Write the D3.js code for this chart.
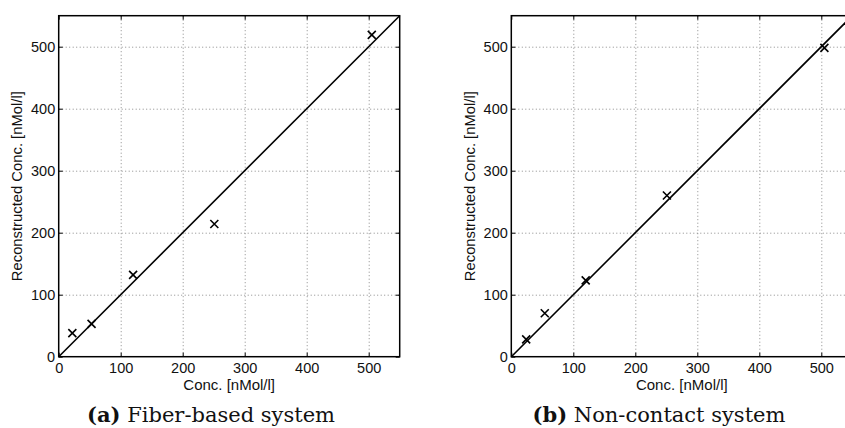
<!DOCTYPE html>
<html lang="en">
  <head>
    <meta charset="UTF-8" />
    <title>Reconstructed vs. true concentration</title>
    <script src="https://d3js.org/d3.v7.min.js"></script>
    <style>
      body { margin: 0; background: #fff; }
      .grid line { stroke: #8a8a8a; stroke-dasharray: 1, 2.5; stroke-width: 1; }
      .grid path, .grid text { display: none; }
      .ax path { display: none; }
      .ax line { stroke: #000; stroke-width: 1; }
    </style>
  </head>
  <body>
    <div id="chart"></div>
    <script>
      // values
      const tickValues = [0, 100, 200, 300, 400, 500];
      const fiberConc = [22, 53, 120, 251, 505];
      const fiberRecon = [38, 53, 132, 214, 519];
      const nonContactConc = [24, 54, 120, 251, 505];
      const nonContactRecon = [28, 70, 123, 260, 498];
      const xLabel = "Conc. [nMol/l]";
      const yLabel = "Reconstructed Conc. [nMol/l]";

      const width = 845;
      const height = 428;
      const size = 341; // square plot box
      const domainMax = 550;
      const sans = "'Liberation Sans', Arial, Helvetica, sans-serif";

      const svg = d3
        .select("#chart")
        .append("svg")
        .attr("width", width)
        .attr("height", height);

      const x = d3.scaleLinear().domain([0, domainMax]).range([0, size]);
      const y = d3.scaleLinear().domain([0, domainMax]).range([size, 0]);

      function styleAxis(sel) {
        sel.attr("font-family", sans).attr("font-size", 14.5);
        sel.selectAll("text").attr("fill", "#111");
      }

      function drawPanel(left, top, xs, ys, tag, caption, captionX) {
        const g = svg.append("g").attr("transform", `translate(${left},${top})`);

        // dotted grid
        g.append("g")
          .attr("class", "grid")
          .attr("transform", `translate(0,${size})`)
          .call(d3.axisBottom(x).tickValues(tickValues.slice(1)).tickSize(-size));
        g.append("g")
          .attr("class", "grid")
          .call(d3.axisLeft(y).tickValues(tickValues.slice(1)).tickSize(-size));

        // inward ticks with labels
        g.append("g")
          .attr("class", "ax")
          .attr("transform", `translate(0,${size})`)
          .call(d3.axisBottom(x).tickValues(tickValues).tickSizeInner(-4).tickSizeOuter(0).tickPadding(6.5))
          .call(styleAxis);
        g.append("g")
          .attr("class", "ax")
          .call(d3.axisLeft(y).tickValues(tickValues).tickSizeInner(-4).tickSizeOuter(0).tickPadding(3.5))
          .call(styleAxis);
        g.append("g")
          .attr("class", "ax")
          .call(d3.axisTop(x).tickValues(tickValues).tickSizeInner(-4).tickSizeOuter(0).tickFormat(""));
        g.append("g")
          .attr("class", "ax")
          .attr("transform", `translate(${size},0)`)
          .call(d3.axisRight(y).tickValues(tickValues).tickSizeInner(-4).tickSizeOuter(0).tickFormat(""));

        // identity line
        g.append("line")
          .attr("x1", x(0))
          .attr("y1", y(0))
          .attr("x2", x(domainMax))
          .attr("y2", y(domainMax))
          .attr("stroke", "#000")
          .attr("stroke-width", 1.6);

        // box
        g.append("rect")
          .attr("width", size)
          .attr("height", size)
          .attr("fill", "none")
          .attr("stroke", "#000")
          .attr("stroke-width", 1.5);

        // x markers
        const pts = xs.map((v, i) => [v, ys[i]]);
        const r = 4;
        g.selectAll(".mark")
          .data(pts)
          .enter()
          .append("path")
          .attr("class", "mark")
          .attr("d", (d) => {
            const cx = x(d[0]);
            const cy = y(d[1]);
            return `M${cx - r},${cy - r}L${cx + r},${cy + r}M${cx - r},${cy + r}L${cx + r},${cy - r}`;
          })
          .attr("stroke", "#000")
          .attr("stroke-width", 1.6)
          .attr("fill", "none");

        // axis labels
        g.append("text")
          .attr("x", size / 2)
          .attr("y", 390 - top)
          .attr("text-anchor", "middle")
          .attr("font-family", sans)
          .attr("font-size", 15)
          .attr("fill", "#111")
          .text(xLabel);
        g.append("text")
          .attr("transform", `translate(-36.7,${size / 2}) rotate(-90)`)
          .attr("text-anchor", "middle")
          .attr("font-family", sans)
          .attr("font-size", 14.8)
          .attr("fill", "#111")
          .text(yLabel);

        // caption
        const cap = svg
          .append("text")
          .attr("x", captionX)
          .attr("y", 422)
          .attr("text-anchor", "middle")
          .attr("font-family", "'DejaVu Serif', serif")
          .attr("font-size", 21)
          .attr("fill", "#111");
        cap.append("tspan").attr("font-weight", "bold").text(tag);
        cap.append("tspan").text(" " + caption);
      }

      drawPanel(58.7, 15.7, fiberConc, fiberRecon, "(a)", "Fiber-based system", 211);
      drawPanel(511.3, 15.7, nonContactConc, nonContactRecon, "(b)", "Non-contact system", 659);
    </script>
  </body>
</html>
